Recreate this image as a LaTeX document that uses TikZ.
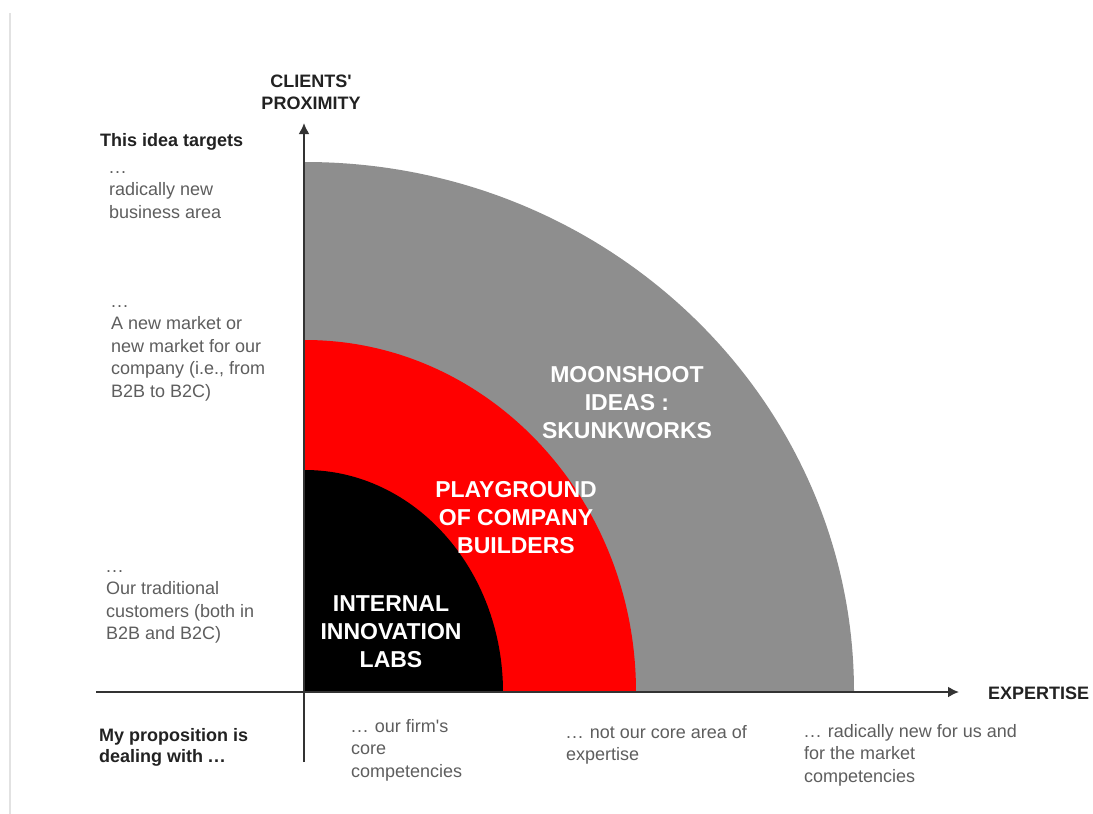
\documentclass[tikz,border=0pt]{standalone}
\usepackage{fontspec}
\setmainfont{Liberation Sans}
\usetikzlibrary{arrows.meta}
\definecolor{zonegray}{HTML}{8E8E8E}
\definecolor{zonered}{HTML}{FF0000}
\definecolor{axiscol}{HTML}{333333}
\definecolor{bodytext}{HTML}{5E5E5E}
\definecolor{headtext}{HTML}{222222}
\definecolor{framecol}{HTML}{E2E2E2}
\newcommand{\mydots}{.\kern1pt.\kern1pt.}
\begin{document}
\begin{tikzpicture}[x=1pt,y=-1pt,
  bodylabel/.style={font=\fontsize{18}{22.5}\selectfont, text=bodytext, align=left, anchor=north west, inner sep=0pt},
  headlabel/.style={font=\bfseries\fontsize{18}{22.5}\selectfont, text=headtext, inner sep=0pt},
  zonelabel/.style={font=\bfseries\fontsize{23}{28}\selectfont, text=white, align=center, anchor=north, inner sep=0pt},
  axisline/.style={draw=axiscol, line width=2pt},
  axisarrow/.style={axisline, -{Latex[length=11pt,width=11pt]}}
]
\useasboundingbox (0,0) rectangle (1093,814);
\fill[white] (0,0) rectangle (1093,814);
\draw[framecol, line width=2pt] (10,13) -- (10,814);

% zones
\coordinate (O) at (305,692);
\fill[zonegray] (O) -- ++(549pt,0pt) arc[start angle=0, end angle=90, x radius=549pt, y radius=530pt] -- cycle;
\fill[zonered] (O) -- ++(331pt,0pt) arc[start angle=0, end angle=90, x radius=331pt, y radius=352pt] -- cycle;
\fill[black] (O) -- ++(198pt,0pt) arc[start angle=0, end angle=90, x radius=198pt, y radius=222pt] -- cycle;

% axes
\coordinate (ybot) at (304,762);
\coordinate (ytop) at (304,123);
\coordinate (xleft) at (96,692);
\coordinate (xright) at (959,692);
\draw[axisarrow] (ybot) -- (ytop);
\draw[axisarrow] (xleft) -- (xright);

% axis titles
\node[headlabel, align=center, anchor=north] (ytitle) at (311,71.25) {\strut CLIENTS\textquotesingle\\PROXIMITY};
\node[headlabel, anchor=base west] (xtitle) at (988,699) {EXPERTISE};
\node[headlabel, align=left, anchor=north west] (ytarget) at (100,130.25) {\strut This idea targets};
\node[headlabel, align=left, anchor=north west, font=\bfseries\fontsize{18}{21}\selectfont] (xdeal) at (99,726.5) {\strut My proposition is\\dealing with \mydots};

% y-axis levels
\node[bodylabel] (ylev3) at (109,157.25) {\strut\mydots\\radically new\\business area};
\node[bodylabel] (ylev2) at (111,291.25) {\strut\mydots\\A new market or\\new market for our\\company (i.e., from\\B2B to B2C)};
\node[bodylabel] (ylev1) at (106,556.25) {\strut\mydots\\Our traditional\\customers (both in\\B2B and B2C)};

% x-axis levels
\node[bodylabel] (xlev1) at (351,716.25) {\strut\mydots{} our firm\textquotesingle s\\core\\competencies};
\node[bodylabel] (xlev2) at (566,722.25) {\strut\mydots{} not our core area of\\expertise};
\node[bodylabel] (xlev3) at (804,721.25) {\strut\mydots{} radically new for us and\\for the market\\competencies};

% zone labels
\node[zonelabel] (moon) at (627,362.4) {\strut MOONSHOOT\\IDEAS :\\SKUNKWORKS};
\node[zonelabel] (play) at (516,477.4) {\strut PLAYGROUND\\OF COMPANY\\BUILDERS};
\node[zonelabel] (labs) at (391,591.4) {\strut INTERNAL\\INNOVATION\\LABS};
\end{tikzpicture}
\end{document}
